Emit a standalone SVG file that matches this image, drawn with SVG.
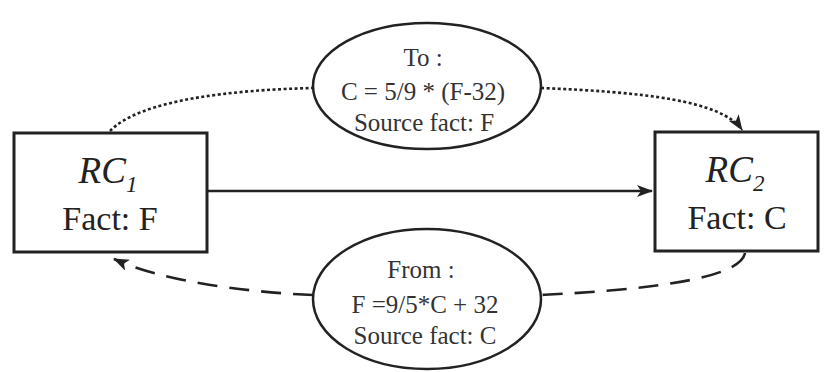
<svg xmlns="http://www.w3.org/2000/svg" width="830" height="372" viewBox="0 0 830 372">
<style>
.box{fill:#fff;stroke:#222;stroke-width:3}
.ell{fill:#fff;stroke:#222;stroke-width:2.5}
.big{font-family:'Liberation Serif','Times New Roman','DejaVu Serif',serif;font-size:34px;fill:#222;text-anchor:middle}
.rc{font-style:italic;font-size:37px}
.sub{font-style:italic;font-size:23px}
.sm{font-family:'Liberation Serif','Times New Roman','DejaVu Serif',serif;font-size:25px;fill:#333;text-anchor:middle}
.c{fill:none;stroke:#222;stroke-width:2.6}
</style>
<defs>
<marker id="ah" viewBox="0 0 16 12" refX="15" refY="6" markerWidth="16" markerHeight="12" markerUnits="userSpaceOnUse" orient="auto">
<path d="M0,0 L16,6 L0,12 L4,6 Z" fill="#222"/>
</marker>
</defs>
<g id="connectors">
<line class="c" x1="208" y1="191" x2="652" y2="191" marker-end="url(#ah)"/>
<path class="c" d="M110,131 C140,100 230,90 313,88" stroke-dasharray="3 2.5"/>
<path class="c" d="M541,88 C640,92 722,100 742,130" stroke-dasharray="3 2.5" marker-end="url(#ah)"/>
<path class="c" d="M745,253 C740,280 640,290 541,295" stroke-dasharray="20 12"/>
<path class="c" d="M313,295 C240,292 160,280 114,259" stroke-dasharray="20 12" marker-end="url(#ah)"/>
</g>
<g id="rc1">
<rect class="box" x="14" y="133" width="193" height="119"/>
<text class="big" x="108" y="183"><tspan class="rc">RC</tspan><tspan class="sub" dy="9">1</tspan></text>
<text class="big" x="110" y="230">Fact: F</text>
</g>
<g id="rc2">
<rect class="box" x="655" y="132" width="163" height="119"/>
<text class="big" x="735" y="182"><tspan class="rc">RC</tspan><tspan class="sub" dy="9">2</tspan></text>
<text class="big" x="737" y="229">Fact: C</text>
</g>
<g id="to">
<ellipse class="ell" cx="427" cy="86" rx="114" ry="63"/>
<text class="sm" x="423" y="66">To :</text>
<text class="sm" x="423" y="100">C = 5/9 * (F-32)</text>
<text class="sm" x="424" y="131">Source fact: F</text>
</g>
<g id="from">
<ellipse class="ell" cx="427" cy="299" rx="114" ry="70"/>
<text class="sm" x="421" y="278">From :</text>
<text class="sm" x="425" y="313">F =9/5*C + 32</text>
<text class="sm" x="425" y="344">Source fact: C</text>
</g>
</svg>
